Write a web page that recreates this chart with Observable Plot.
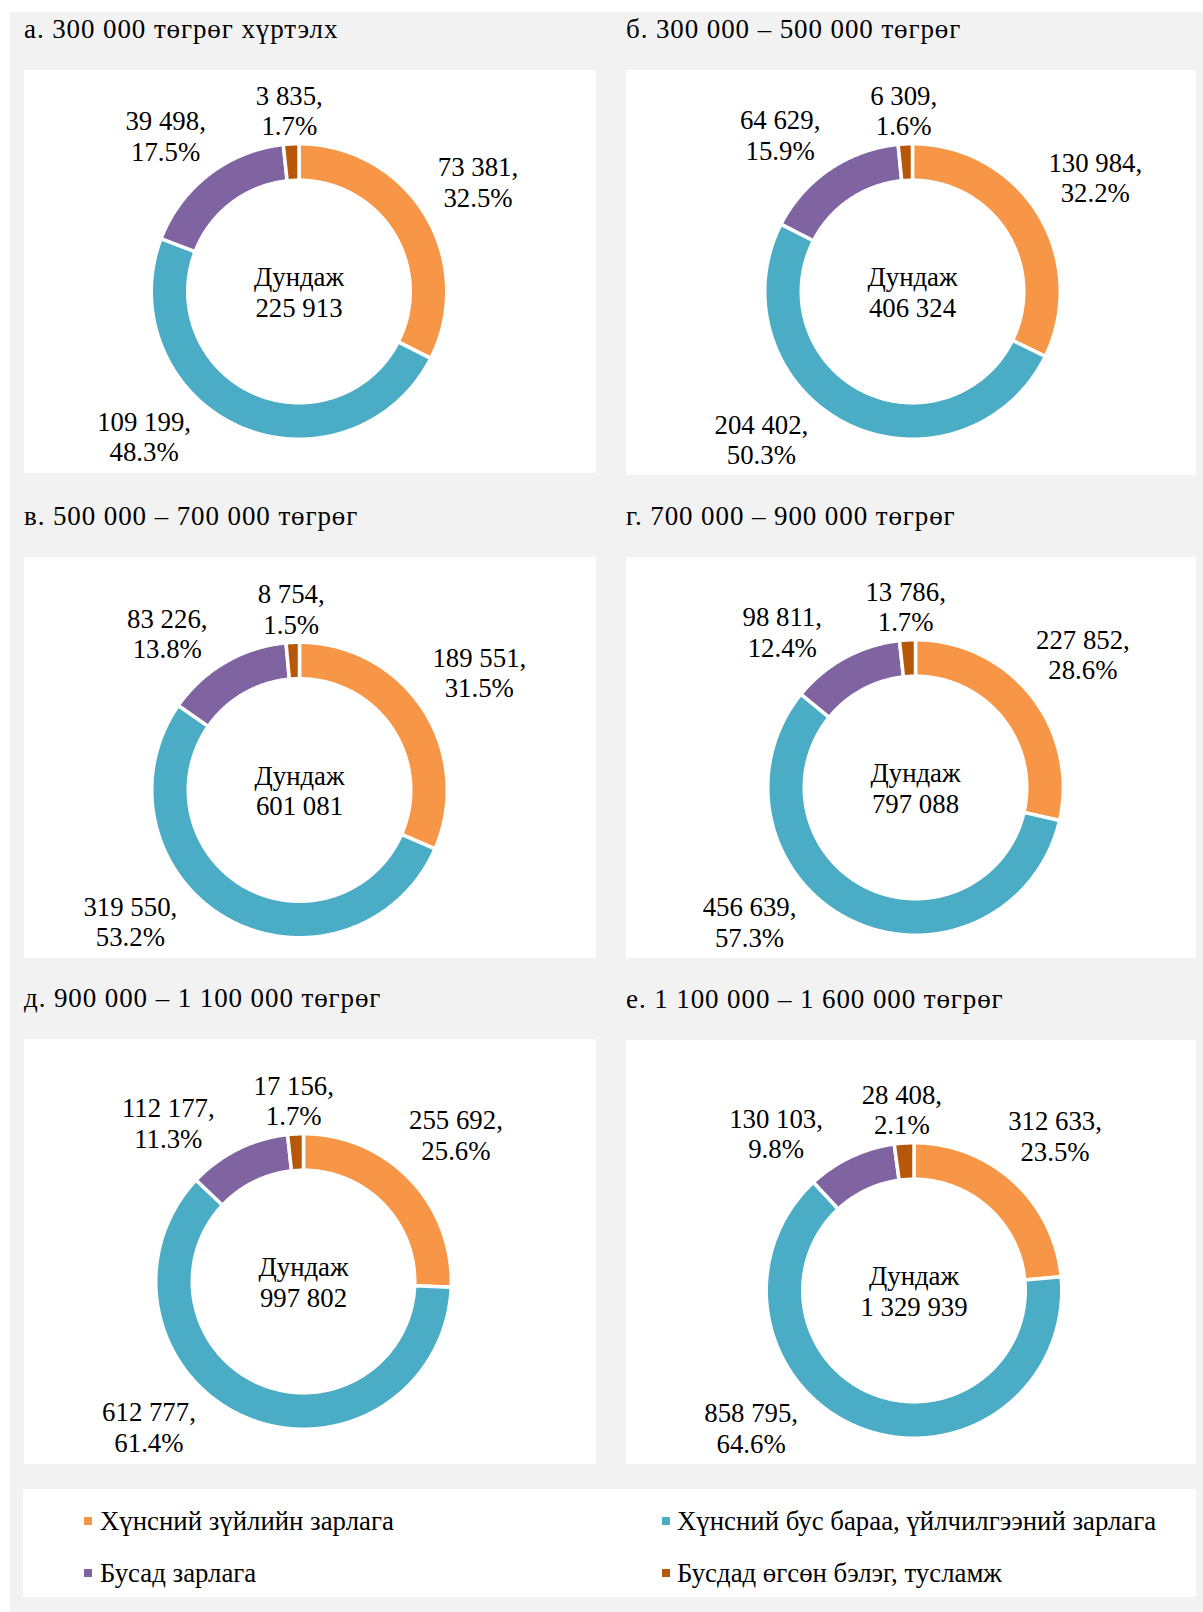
<!DOCTYPE html>
<html>
<head>
<meta charset="utf-8">
<script src="https://cdn.jsdelivr.net/npm/d3@7"></script>
<script src="https://cdn.jsdelivr.net/npm/@observablehq/plot@0.6"></script>
<style>
  html, body { margin: 0; padding: 0; background: #ffffff; }
  body { width: 1203px; height: 1612px; position: relative; overflow: hidden;
         font-family: "Liberation Serif", "Times New Roman", serif; color: #000; }
  #bg { position: absolute; left: 10px; top: 12px; width: 1193px; height: 1600px; background: #f2f2f2; }
  .panel { position: absolute; background: #ffffff; }
  .panel svg { display: block; }
  .title { position: absolute; font-size: 27px; line-height: 30px; letter-spacing: 0.9px; white-space: nowrap; }
  .legend { position: absolute; left: 23px; top: 1489px; width: 1173px; height: 108px; background: #fff; }
  .item { position: absolute; font-size: 26.8px; line-height: 30px; white-space: nowrap; }
  .sw { position: absolute; width: 8px; height: 8px; }
</style>
</head>
<body>
<div id="bg"></div>
<div id="root"></div>
<script>
// ---------------- data ----------------
const categories = [
  "Хүнсний зүйлийн зарлага",
  "Хүнсний бус бараа, үйлчилгээний зарлага",
  "Бусад зарлага",
  "Бусдад өгсөн бэлэг, тусламж"
];
const groupTitles = [
  "а. 300 000 төгрөг хүртэлх",
  "б. 300 000 – 500 000 төгрөг",
  "в. 500 000 – 700 000 төгрөг",
  "г. 700 000 – 900 000 төгрөг",
  "д. 900 000 – 1 100 000 төгрөг",
  "е. 1 100 000 – 1 600 000 төгрөг"
];
const centerLabel = "Дундаж";
const averages   = [225913, 406324, 601081, 797088, 997802, 1329939];
const food       = [73381, 130984, 189551, 227852, 255692, 312633];
const nonFood    = [109199, 204402, 319550, 456639, 612777, 858795];
const other      = [39498, 64629, 83226, 98811, 112177, 130103];
const gifts      = [3835, 6309, 8754, 13786, 17156, 28408];
const foodPct    = [32.5, 32.2, 31.5, 28.6, 25.6, 23.5];
const nonFoodPct = [48.3, 50.3, 53.2, 57.3, 61.4, 64.6];
const otherPct   = [17.5, 15.9, 13.8, 12.4, 11.3, 9.8];
const giftsPct   = [1.7, 1.6, 1.5, 1.7, 1.7, 2.1];

// ---------------- styles / layout ----------------
const colors = ["#F79646", "#4BACC6", "#8064A2", "#B6570A"];
const FONT = "Liberation Serif";
const FS = 26.8;
const LH = 30.5;
const R_OUT = 146, R_IN = 113, GAP = 3.5;
// panel boxes: left, top, width, height, donut centre inside the panel
const panels = [
  {left: 24,  top: 70,   w: 572, h: 403, cx: 274.5, cy: 221},
  {left: 626, top: 70,   w: 570, h: 405, cx: 286,   cy: 221},
  {left: 24,  top: 557,  w: 572, h: 401, cx: 275,   cy: 232.5},
  {left: 626, top: 557,  w: 570, h: 401, cx: 289,   cy: 230},
  {left: 24,  top: 1039, w: 572, h: 425, cx: 279,   cy: 242},
  {left: 626, top: 1040, w: 570, h: 424, cx: 287.5, cy: 250}
];

const fmt = d3.formatLocale({decimal: ".", thousands: " ", grouping: [3], currency: ["", ""]}).format(",d");
const ctx = document.createElement("canvas").getContext("2d");
ctx.font = `${FS}px "${FONT}"`;

const root = document.getElementById("root");

function radialPos(theta, hw, hh, rc) {
  const a = theta * Math.PI / 180;
  const ux = Math.sin(a), uy = -Math.cos(a);
  for (let t = 0; t < 600; t += 0.5) {
    const x = ux * t, y = uy * t;
    const dx = Math.max(Math.abs(x) - hw, 0), dy = Math.max(Math.abs(y) - hh, 0);
    if (Math.hypot(dx, dy) >= rc) return {x, y};
  }
  return {x: ux * 600, y: uy * 600};
}
const angDiff = (a, b) => ((a - b + 540) % 360) - 180;
const overlap = (p, q, pad) => !(p.x1 + pad < q.x0 || q.x1 + pad < p.x0 || p.y1 + pad < q.y0 || q.y1 + pad < p.y0);

groupTitles.forEach((title, g) => {
  const P = panels[g];
  const values = [food[g], nonFood[g], other[g], gifts[g]];
  const pcts = [foodPct[g], nonFoodPct[g], otherPct[g], giftsPct[g]];
  const total = d3.sum(values);

  // ring polygons
  const points = [];
  const mids = [];
  let acc = 0;
  values.forEach((v, i) => {
    const a0 = acc / total * 360, a1 = (acc + v) / total * 360;
    acc += v;
    mids.push((a0 + a1) / 2);
    const ro = R_OUT + GAP / 2, ri = R_IN - GAP / 2;
    const n = Math.max(4, Math.ceil((a1 - a0) / 0.5));
    for (let k = 0; k <= n; k++) {
      const a = (a0 + (a1 - a0) * k / n) * Math.PI / 180;
      points.push({cat: categories[i], x: ro * Math.sin(a), y: -ro * Math.cos(a)});
    }
    for (let k = n; k >= 0; k--) {
      const a = (a0 + (a1 - a0) * k / n) * Math.PI / 180;
      points.push({cat: categories[i], x: ri * Math.sin(a), y: -ri * Math.cos(a)});
    }
  });

  // data labels, placed outside the ring along each slice's mid-angle
  const RC = 155, HH = 26, HPAD = 8, PAD = 10, MIN_SEP = 37, OPAD = 12;
  const bounds = {x0: -P.cx + PAD, x1: P.w - P.cx - PAD, y0: -P.cy + PAD, y1: P.h - P.cy - PAD};
  const labels = values.map((v, i) => {
    const text = `${fmt(v)},\n${pcts[i].toFixed(1)}%`;
    const tw = d3.max(text.split("\n"), s => ctx.measureText(s).width) / 2;
    return {i, text, tw, hw: tw + HPAD, mid: mids[i]};
  });
  const placed = [];
  for (const i of [3, 0, 2, 1]) {
    const L = labels[i];
    let theta = L.mid, pos, box;
    for (let it = 0; it < 150; it++) {
      pos = radialPos(theta, L.hw, HH, RC);
      box = {x0: pos.x - L.tw, x1: pos.x + L.tw, y0: pos.y - HH, y1: pos.y + HH};
      const th = ((theta % 360) + 360) % 360;
      let push = 0;
      if (box.y1 > bounds.y1) push = th > 180 ? 1 : -1;
      else if (box.y0 < bounds.y0) push = th > 180 ? -1 : 1;
      else {
        for (const q of placed) {
          if (overlap(box, q.box, OPAD) || Math.abs(angDiff(theta, q.theta)) < MIN_SEP) {
            push = angDiff(theta, q.theta) >= 0 ? 1 : -1;
            break;
          }
        }
      }
      if (!push) break;
      theta += push;
    }
    L.x = pos.x; L.y = pos.y;
    placed.push({theta, box});
  }

  // title
  const t = document.createElement("div");
  t.className = "title";
  t.style.left = (P.left + 0) + "px";
  t.style.top = (P.top - 32 - 24.2) + "px";
  t.textContent = title;
  root.appendChild(t);

  const chart = Plot.plot({
    width: P.w,
    height: P.h,
    marginLeft: P.cx - R_OUT,
    marginRight: P.w - P.cx - R_OUT,
    marginTop: P.cy - R_OUT,
    marginBottom: P.h - P.cy - R_OUT,
    x: {domain: [-R_OUT, R_OUT], axis: null},
    y: {domain: [-R_OUT, R_OUT], reverse: true, axis: null},
    color: {domain: categories, range: colors},
    style: {fontFamily: FONT, fontSize: FS + "px", background: "transparent", overflow: "visible"},
    marks: [
      Plot.line(points, {x: "x", y: "y", z: "cat", fill: "cat", stroke: "white", strokeWidth: GAP, curve: "linear-closed"}),
      Plot.text(labels, {x: "x", y: "y", text: "text", fontSize: FS, lineHeight: LH / FS,
                         textAnchor: "middle", lineAnchor: "middle", fill: "black"}),
      Plot.text([`${centerLabel}\n${fmt(averages[g])}`], {text: d => d, frameAnchor: "middle", fontSize: FS,
                         lineHeight: LH / FS, lineAnchor: "middle", textAnchor: "middle", dy: 0, fill: "black"})
    ]
  });
  const div = document.createElement("div");
  div.className = "panel";
  div.style.left = P.left + "px";
  div.style.top = P.top + "px";
  div.style.width = P.w + "px";
  div.style.height = P.h + "px";
  div.appendChild(chart);
  root.appendChild(div);
});

// legend
const lg = document.createElement("div");
lg.className = "legend";
root.appendChild(lg);
const legendPos = [
  {sx: 84, tx: 100, base: 1530},
  {sx: 662, tx: 677, base: 1530},
  {sx: 84, tx: 100, base: 1582},
  {sx: 662, tx: 677, base: 1582}
];
categories.forEach((c, i) => {
  const L = legendPos[i];
  const sw = document.createElement("div");
  sw.className = "sw";
  sw.style.left = L.sx + "px";
  sw.style.top = (L.base - 13) + "px";
  sw.style.background = colors[i];
  root.appendChild(sw);
  const tx = document.createElement("div");
  tx.className = "item";
  tx.style.left = L.tx + "px";
  tx.style.top = (L.base - 24.2) + "px";
  tx.textContent = c;
  root.appendChild(tx);
});
</script>
</body>
</html>
